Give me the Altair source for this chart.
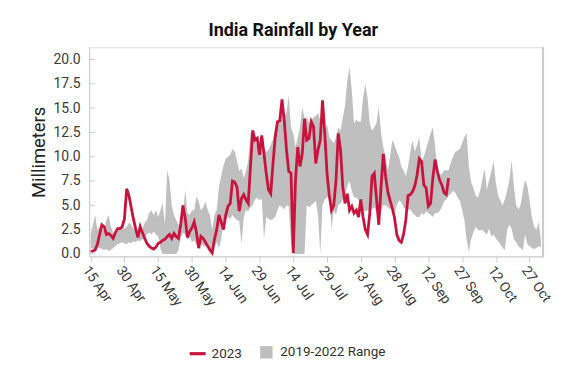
import altair as alt
import pandas as pd

# ---- data ----
start_2023 = "2023-04-15"
rain_2023 = [
    0.3, 0.3, 0.4, 1.0, 2.0, 3.0, 2.8, 2.0, 2.1, 1.9,
    1.6, 2.2, 2.6, 2.6, 2.8, 3.6, 6.7, 6.0, 4.8, 3.6,
    2.6, 1.7, 2.8, 2.2, 1.6, 1.1, 0.8, 0.6, 0.5, 0.7,
    1.1, 1.2, 1.4, 1.5, 1.8, 2.0, 1.6, 2.1, 1.8, 1.6,
    3.0, 5.0, 3.7, 1.7, 2.3, 2.7, 3.3, 2.2, 0.6, 1.8,
    1.6, 1.2, 0.8, 0.4, 0.1, 1.5, 2.5, 4.0, 3.3, 2.5,
    4.0, 4.9, 5.2, 7.5, 7.4, 6.9, 4.4, 5.7, 6.1, 5.6,
    5.2, 9.0, 12.7, 11.7, 11.9, 10.2, 12.2, 10.3, 8.3, 6.6,
    6.2, 9.3, 12.0, 13.6, 13.7, 15.9, 13.7, 10.7, 8.5, 8.3,
    0.1, 7.6, 11.0, 9.0, 10.3, 13.9, 11.7, 11.9, 13.6, 13.1,
    9.3, 10.7, 11.7, 15.8, 12.4, 8.3, 6.0, 4.5, 5.0, 7.6,
    12.4, 10.7, 6.9, 5.2, 6.2, 4.5, 4.9, 4.2, 4.5, 3.8,
    5.6, 3.8, 2.5, 2.0, 4.2, 8.0, 8.3, 5.6, 3.0, 6.9,
    10.3, 8.0, 6.4, 5.5, 4.7, 3.7, 2.0, 1.4, 1.2, 2.0,
    3.5, 6.0, 6.1, 6.4, 7.0, 8.1, 9.8, 9.5, 7.1, 6.8,
    4.9, 5.2, 7.8, 9.7, 8.5, 7.6, 7.1, 6.3, 6.1, 7.8,
]

start_range = "2023-04-15"
range_high = [
    2.0, 3.0, 4.0, 2.5, 2.8, 2.6, 2.4, 3.5, 4.0, 2.8,
    2.2, 2.0, 2.4, 2.6, 2.8, 2.6, 2.8, 3.2, 3.0, 2.6,
    2.4, 2.3, 2.8, 2.6, 3.2, 3.5, 4.2, 4.5, 4.0, 4.5,
    3.8, 4.5, 5.2, 3.0, 8.6, 7.6, 5.0, 4.0, 3.5, 3.0,
    3.2, 4.0, 6.6, 4.2, 4.0, 4.5, 4.5, 5.9, 5.4, 4.5,
    4.8, 5.4, 4.5, 4.0, 2.5, 4.0, 4.5, 6.9, 8.0, 9.1,
    9.8, 10.0, 10.2, 10.8, 10.5, 9.6, 8.5, 8.8, 7.8, 8.5,
    9.6, 12.4, 12.8, 11.7, 11.0, 11.5, 11.7, 10.8, 10.5, 10.7,
    11.2, 11.8, 13.1, 13.6, 14.0, 14.8, 14.2, 14.5, 16.3, 13.0,
    12.4, 11.0, 12.0, 13.0, 15.1, 14.0, 14.0, 13.5, 13.8, 14.0,
    14.2, 14.5, 13.8, 13.2, 12.4, 13.4, 12.0, 11.7, 11.4, 12.0,
    13.0, 12.7, 14.0, 15.2, 17.8, 19.2, 16.8, 13.4, 13.8, 13.6,
    13.6, 16.0, 17.5, 16.0, 13.4, 12.7, 13.0, 13.5, 15.1, 12.5,
    11.0, 10.0, 8.6, 10.0, 11.7, 11.2, 10.5, 10.0, 9.0, 8.6,
    8.0, 9.0, 10.5, 11.7, 10.5, 11.2, 12.0, 9.5, 10.0, 10.8,
    11.6, 12.4, 13.0, 11.0, 9.0, 8.2, 8.2, 8.6, 8.6, 8.6,
    9.4, 10.0, 10.5, 10.6, 10.8, 11.4, 12.0, 12.4, 9.0, 7.4,
    6.8, 6.0, 5.8, 6.5, 7.6, 8.8, 6.6, 7.6, 8.5, 9.5,
    7.3, 6.0, 5.5, 5.0, 5.6, 6.5, 7.6, 9.6, 7.0, 5.0,
    4.6, 5.0, 6.5, 7.6, 7.0, 5.5, 3.8, 2.8, 2.5, 3.3,
    1.5,
]
range_low = [
    0.6, 0.5, 0.5, 0.7, 0.6, 0.5, 0.4, 0.5, 0.3, 0.4,
    0.6, 0.8, 1.0, 1.1, 1.2, 1.1, 1.0, 1.2, 1.1, 1.3,
    1.2, 1.4, 1.3, 1.5, 1.6, 2.0, 2.2, 2.0, 2.3, 2.0,
    1.8, 0.5, 0.0, 0.0, 0.0, 0.0, 0.0, 0.0, 0.0, 0.4,
    1.6, 2.2, 2.0, 1.5, 1.8, 1.2, 1.4, 1.0, 0.8, 1.0,
    0.9, 0.8, 0.6, 0.5, 0.4, 0.8, 1.2, 0.6, 1.5, 3.4,
    3.6, 3.8, 3.6, 4.0, 3.7, 3.5, 3.4, 1.0, 3.8, 4.5,
    4.4, 4.8, 5.0, 5.6, 5.8, 5.5, 5.7, 1.5, 3.8, 3.6,
    3.5, 3.6, 3.8, 4.5, 5.0, 4.8, 4.6, 5.0, 4.9, 1.0,
    0.0, 0.0, 0.0, 0.0, 0.0, 0.0, 5.0, 4.8, 5.0, 5.2,
    5.5, 4.0, 0.0, 5.0, 5.6, 5.8, 6.0, 2.5, 4.5, 4.0,
    5.0, 5.2, 5.6, 6.0, 7.0, 7.5, 6.5, 5.8, 5.8, 5.6,
    5.0, 4.5, 4.4, 4.5, 4.4, 4.6, 4.8, 4.4, 3.2, 4.4,
    5.0, 5.0, 4.8, 4.6, 4.8, 4.2, 5.0, 5.5, 5.3, 4.8,
    4.6, 4.5, 4.6, 4.2, 4.0, 3.8, 3.8, 4.2, 4.0, 4.4,
    4.2, 4.0, 3.8, 4.2, 4.2, 4.4, 4.8, 5.4, 5.6, 6.0,
    6.2, 6.5, 6.3, 5.8, 5.5, 4.5, 3.5, 1.5, 0.2, 1.5,
    2.2, 2.8, 2.5, 2.4, 2.5, 2.2, 2.0, 2.6, 1.8, 2.0,
    1.6, 1.3, 1.0, 0.6, 0.4, 2.5, 3.0, 2.6, 1.5, 1.2,
    0.8, 0.6, 0.4, 2.0, 1.0, 0.8, 0.6, 0.5, 0.6, 0.8,
    0.7,
]

series_names = ["2023", "2019-2022 Range"]
series_colors = ["#C8143D", "#BFBFBF"]
y_ticks = [0, 2.5, 5, 7.5, 10, 12.5, 15, 17.5, 20]
x_tick_dates = ["2023-04-15", "2023-04-30", "2023-05-15", "2023-05-30",
                "2023-06-14", "2023-06-29", "2023-07-14", "2023-07-29",
                "2023-08-13", "2023-08-28", "2023-09-12", "2023-09-27",
                "2023-10-12", "2023-10-27"]

# ---- tables ----
df_line = pd.DataFrame({
    "date": pd.date_range(start_2023, periods=len(rain_2023), freq="D").strftime("%Y-%m-%d"),
    "mm": rain_2023,
})
df_band = pd.DataFrame({
    "date": pd.date_range(start_range, periods=len(range_high), freq="D").strftime("%Y-%m-%d"),
    "low": range_low,
    "high": range_high,
})
df_legend = pd.DataFrame({"series": series_names})
df_ticks = pd.DataFrame({"v": y_ticks})

FONT = "Roboto"
W, H = 456, 210

def dt(s, hours=0):
    y, m, d = (int(p) for p in s.split("-"))
    return alt.DateTime(year=y, month=m, date=d, hours=hours, utc=True)

x_scale = alt.Scale(type="utc", domain=[dt("2023-04-14", 8), dt("2023-11-02", 0)])
y_scale = alt.Scale(domain=[-0.25, 21.25], nice=False, zero=False)

x_axis = alt.Axis(
    values=[dt(s) for s in x_tick_dates], format="%d %b", labelAngle=55,
    labelAlign="left", labelBaseline="top", labelFontSize=14, labelColor="#3a3a3a",
    labelFont=FONT, domainColor="#cccccc", tickColor="#cccccc", tickSize=6,
    labelPadding=1, grid=False, title=None, labelOverlap=False, labelFlush=False,
    labelBound=False,
)
y_axis = alt.Axis(
    values=y_ticks, format=".1f", ticks=False, labelPadding=9, grid=False,
    labelFontSize=14, labelColor="#3a3a3a", labelFont=FONT, domainColor="#cccccc",
    title="Millimeters", titleFontSize=18.5, titleFont=FONT, titleFontWeight="normal",
    titleColor="#222222", titlePadding=5, labelOverlap=False, labelFlush=False,
)

band = alt.Chart(df_band).mark_area(color=series_colors[1], opacity=1).encode(
    x=alt.X("date:T", scale=x_scale, axis=x_axis),
    y=alt.Y("low:Q", scale=y_scale, axis=y_axis),
    y2="high:Q",
)

line = alt.Chart(df_line).mark_line(color=series_colors[0], strokeWidth=2.8).encode(
    x=alt.X("date:T", scale=x_scale, axis=x_axis),
    y=alt.Y("mm:Q", scale=y_scale, axis=y_axis),
)

inner_ticks = alt.Chart(df_ticks).mark_rule(color="#cccccc", strokeWidth=1).encode(
    y=alt.Y("v:Q", scale=y_scale, axis=y_axis),
    x=alt.value(0),
    x2=alt.value(6),
)

right_border = alt.Chart(df_ticks).mark_rule(color="#cccccc", strokeWidth=1).encode(
    x=alt.value(W), y=alt.value(0), y2=alt.value(H),
)

leg = alt.Legend(
    title=None, orient="none", direction="horizontal", legendX=100, legendY=297,
    labelFont=FONT, labelFontSize=13.5, labelColor="#333333", symbolSize=256,
    columnPadding=14, labelOffset=5, symbolOpacity=1,
)
legend_layer = alt.Chart(df_legend).mark_point(filled=True, clip=True, opacity=1).encode(
    x=alt.value(-200),
    y=alt.value(-200),
    color=alt.Color("series:N",
                    scale=alt.Scale(domain=series_names, range=series_colors),
                    legend=leg),
    shape=alt.Shape("series:N",
                    scale=alt.Scale(domain=series_names,
                                    range=["M-1,-0.2H1V0.2H-1Z", "M-0.78,-0.78H0.78V0.78H-0.78Z"]),
                    legend=leg),
)

chart = alt.layer(band, line, inner_ticks, right_border, legend_layer).properties(
    width=W,
    height=H,
    title=alt.TitleParams("India Rainfall by Year", font=FONT, fontSize=18,
                          fontWeight="bold", color="#111111", anchor="middle",
                          dx=-23, offset=7),
    autosize=alt.AutoSizeParams(type="none"),
    padding={"left": 81.5, "top": 38.7, "right": 30, "bottom": 105},
).configure_view(stroke=None).configure(background="white")

chart.save("out.html", embed_options={"renderer": "svg", "actions": False})
